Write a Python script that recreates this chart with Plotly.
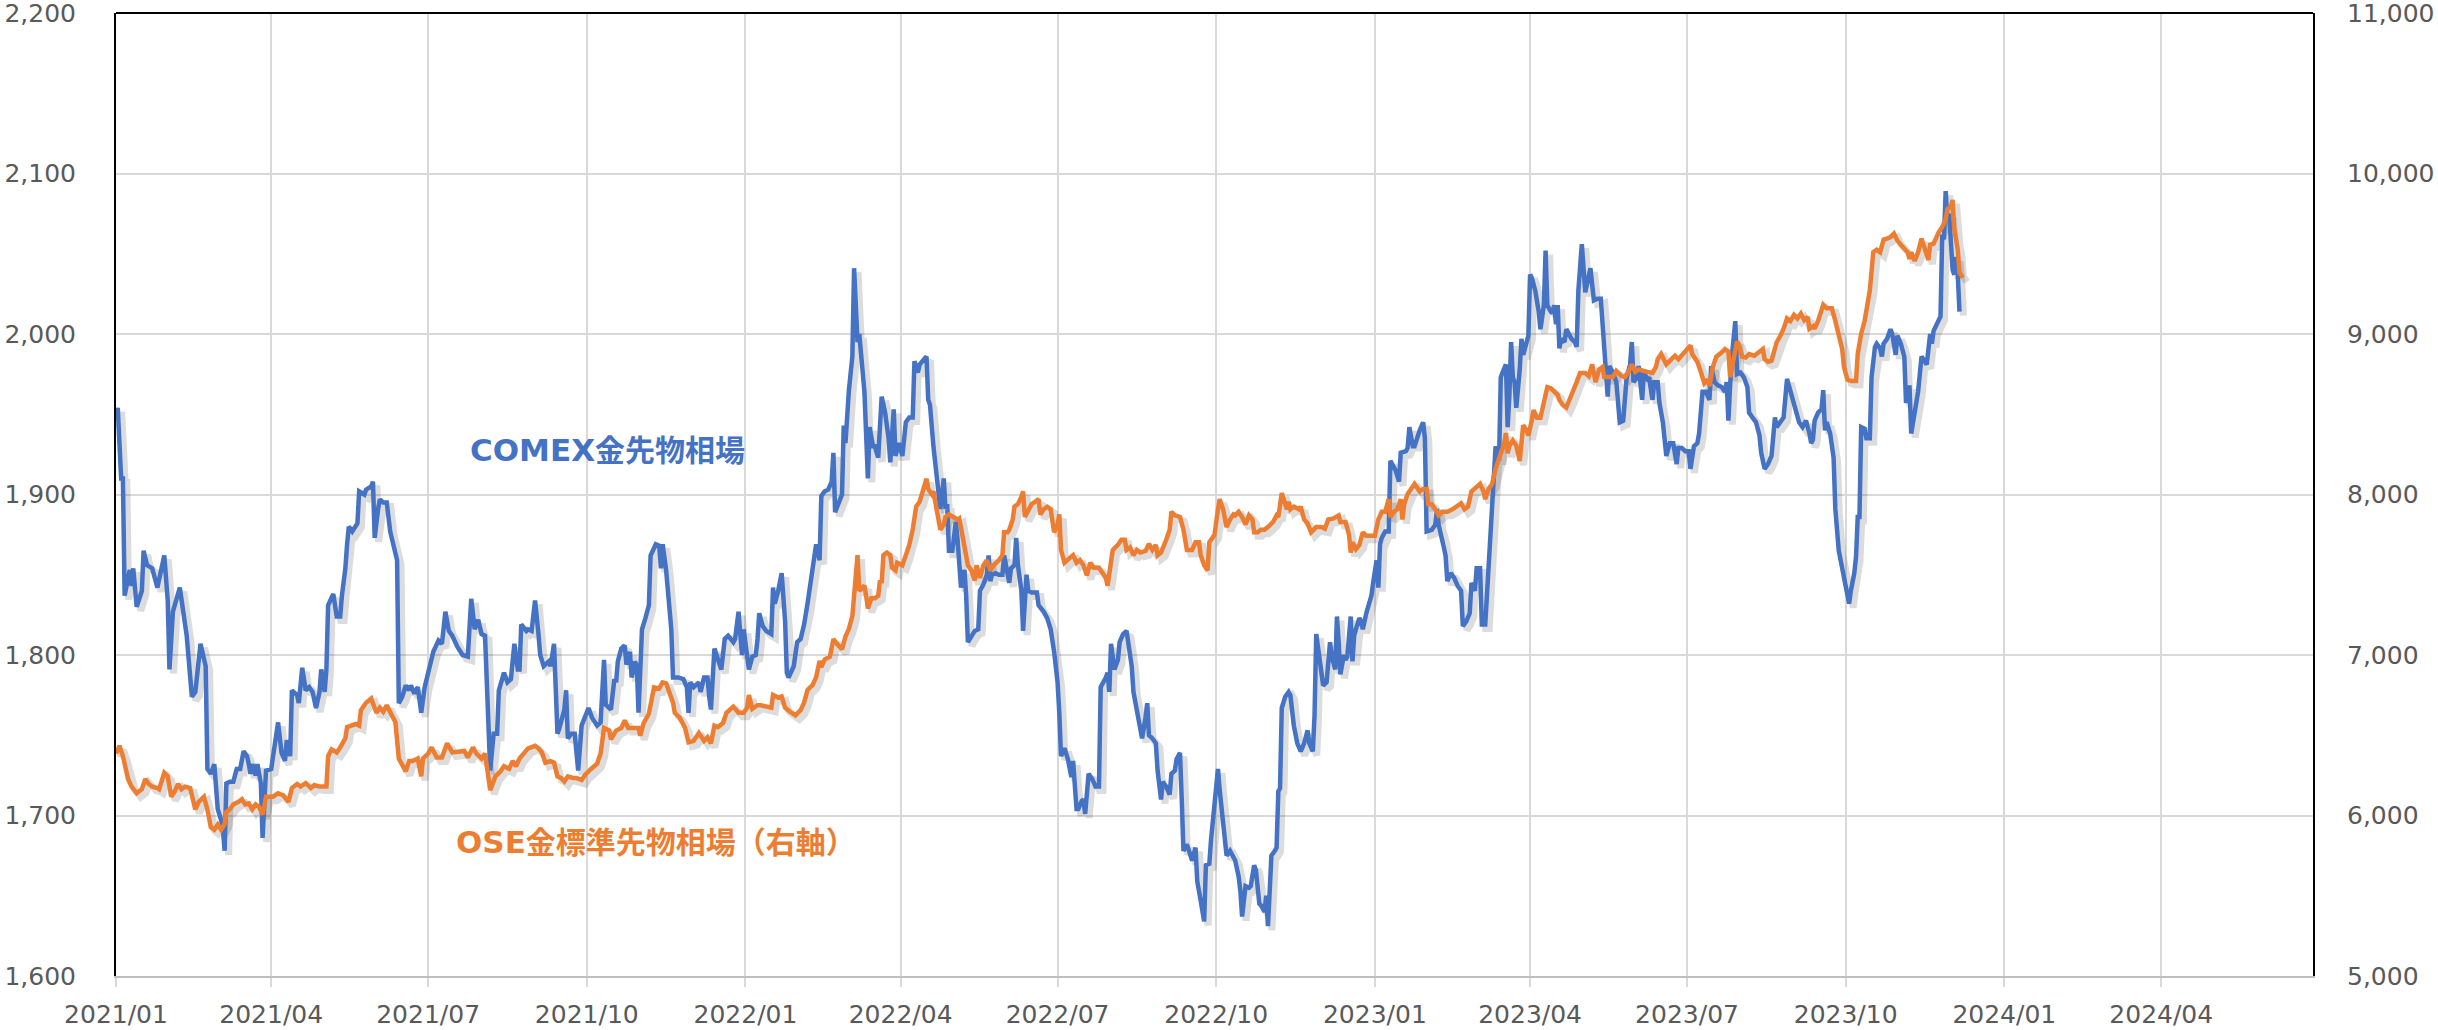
import pandas as pd
import plotly.graph_objects as go

# ---- data (day = days since 2021-01-01) ----
comex_day = [
    0, 1, 3, 4, 5, 6, 8, 9, 10, 12, 15, 16, 18, 21, 24, 28, 30, 31, 33, 37, 41, 44, 46, 49, 52, 53, 55, 57, 59, 61,
    62, 63, 64, 66, 68, 70, 72, 74, 76, 77, 78, 79, 81, 82, 84, 85, 87, 90, 92, 94, 96, 98, 99, 101, 102, 105, 106,
    108, 110, 112, 114, 116, 118, 119, 121, 122, 123, 126, 128, 130, 131, 133, 134, 135, 137, 140, 141, 144, 145,
    148, 149, 150, 152, 153, 155, 157, 159, 162, 163, 164, 166, 168, 170, 171, 173, 175, 177, 179, 181, 183, 184,
    187, 189, 191, 193, 195, 198, 201, 204, 206, 208, 210, 212,
    214, 216, 217, 219, 221, 222, 225, 227, 229, 231, 233, 234, 235, 238, 239, 241, 243, 245, 246, 248, 251, 252,
    254, 256, 257, 260, 261, 262, 264, 266, 268, 270, 272, 274, 276, 279, 281, 283, 284, 286, 287, 289, 290, 291,
    293, 295, 296, 298, 299, 301, 302, 303, 305, 307, 309, 310, 313, 315, 316, 317, 319, 322, 323, 326, 329, 331,
    332, 333, 335, 338, 339, 341, 343, 344, 345, 347, 349, 351, 353, 355, 358, 359, 361, 363, 364, 367, 369, 371,
    372, 373, 375, 377, 380, 381, 382, 384, 386, 388, 389, 390, 393, 395, 397, 399, 401, 402, 404, 406, 408, 409,
    411, 413, 415, 416, 417, 419, 421, 422, 423, 425, 427, 428, 430, 431,
    432, 434, 436, 437, 439, 440, 442, 444, 446, 448, 449, 451, 452, 454, 456, 458, 460, 462, 463, 465, 466, 468,
    470, 471, 472, 474, 476, 477, 478, 480, 481, 482, 483, 485, 486, 487, 488, 489, 490, 492, 493, 494, 496, 498,
    500, 501, 503, 505, 506, 507, 508, 510, 512, 514, 515, 517, 518, 519, 521, 522, 523, 525, 526, 528, 529, 531,
    534, 535, 538, 540, 542, 544, 546, 547, 548, 550, 552, 554, 555, 557, 558, 560, 561, 562, 564, 566, 568, 570,
    571, 574, 575, 576, 577, 579, 581, 582, 584, 586, 587, 589, 590, 592, 594, 595, 597, 598, 599, 601, 603, 604,
    606, 607, 609, 611, 612, 614, 615, 617, 618, 619, 621, 623, 624, 626, 627, 629, 631, 632, 634, 635, 637, 639,
    640, 642, 644, 646,
    649, 651, 652, 653, 655, 657, 658, 660, 661, 663, 664, 666, 667, 668, 670, 672, 673, 674, 675, 676, 678, 680,
    681, 683, 685, 687, 689, 691, 692, 694, 695, 696, 697, 699, 700, 702, 704, 705, 707, 708, 709, 710, 712, 713,
    714, 716, 717, 718, 719, 721, 722, 723, 725, 726, 728, 729, 731, 732, 733, 734, 736, 738, 739, 740, 742, 744,
    745, 748, 749, 750, 752, 753, 755, 756, 758, 759, 760, 763, 765, 766, 767, 769, 770, 771, 772, 774, 776, 778,
    780, 781, 783, 785, 786, 788, 789, 791, 792, 794, 796, 797, 798, 799, 800, 802, 803, 804, 806, 807, 808, 809,
    810, 811, 812, 814, 815, 816, 818, 819, 820, 821, 823, 825, 826, 828, 829, 830, 832, 833, 834, 835, 836, 837,
    838, 840, 841, 843, 844, 846, 847, 848, 850, 852, 853, 855, 857, 859, 861, 863, 864, 865, 866,
    868, 870, 872, 874, 876, 878, 879, 880, 882, 883, 885, 886, 888, 889, 891, 892, 894, 895, 897, 899, 901, 903,
    905, 906, 908, 910, 912, 913, 915, 917, 918, 920, 922, 924, 925, 927, 929, 931, 933, 934, 935, 936, 937, 939,
    940, 942, 944, 946, 947, 949, 951, 953, 954, 956, 958, 960, 962, 963, 965, 967, 969, 970, 972, 974, 976, 978,
    980, 982, 983, 984, 985, 987, 989, 990, 991, 992, 994, 996, 997, 999, 1001, 1003, 1005, 1006, 1008, 1009, 1010,
    1011, 1012, 1014, 1015, 1017, 1018, 1020, 1021, 1023, 1024, 1025, 1027, 1029, 1030, 1032, 1033, 1035, 1037,
    1038, 1040, 1041, 1042, 1044, 1045, 1047, 1048, 1050, 1052, 1053, 1054, 1056, 1058, 1059, 1060, 1061, 1062,
    1063, 1065, 1066, 1067, 1068, 1069,
]
comex_usd = [
    1948, 1954, 1910, 1910, 1837, 1843, 1853, 1843, 1854, 1830, 1840, 1865, 1856, 1854, 1842, 1862, 1834, 1791, 1827,
    1842, 1812, 1774, 1777, 1807, 1793, 1729, 1726, 1732, 1704, 1697, 1691, 1678, 1720, 1721, 1721, 1729, 1729, 1740,
    1737, 1732, 1726, 1732, 1725, 1732, 1720, 1686, 1728, 1729, 1742, 1758, 1739, 1734, 1747, 1737, 1778, 1775, 1770,
    1792, 1778, 1780, 1777, 1767, 1777, 1791, 1777, 1791, 1831, 1838, 1824, 1824, 1837, 1854, 1869, 1880, 1877, 1882,
    1902, 1900, 1903, 1905, 1908, 1873, 1891, 1897, 1895, 1895, 1877, 1861, 1859, 1770, 1774, 1781, 1778, 1781, 1776,
    1780, 1764, 1780, 1789, 1796, 1802, 1809, 1807, 1827, 1815, 1812, 1805, 1800, 1799, 1835, 1816, 1822, 1813,
    1812, 1745, 1728, 1751, 1751, 1778, 1789, 1783, 1785, 1807, 1791, 1791, 1819, 1815, 1816, 1815, 1834, 1813, 1800,
    1793, 1796, 1793, 1807, 1751, 1754, 1766, 1778, 1748, 1751, 1751, 1728, 1756, 1762, 1767, 1761, 1756, 1758, 1797,
    1769, 1767, 1766, 1785, 1783, 1796, 1804, 1806, 1794, 1802, 1786, 1796, 1793, 1764, 1816, 1823, 1831, 1862, 1869,
    1868, 1854, 1869, 1853, 1816, 1786, 1786, 1785, 1780, 1764, 1783, 1780, 1783, 1777, 1786, 1786, 1774, 1766, 1804,
    1797, 1791, 1810, 1812, 1808, 1810, 1827, 1800, 1816, 1791, 1799, 1800, 1810, 1826, 1818, 1815, 1813, 1842, 1832,
    1840, 1851, 1821, 1789, 1786, 1793, 1808, 1810, 1819, 1832, 1840, 1853, 1869, 1859, 1899, 1902, 1903, 1908, 1926,
    1889, 1894, 1900, 1943, 1932, 1965, 1986, 2041, 1995, 2000,
    1986, 1964, 1910, 1942, 1930, 1930, 1923, 1961, 1951, 1935, 1920, 1953, 1924, 1932, 1924, 1945, 1948, 1948, 1983,
    1976, 1981, 1984, 1986, 1959, 1956, 1930, 1910, 1902, 1891, 1910, 1891, 1894, 1865, 1865, 1877, 1883, 1872, 1859,
    1842, 1853, 1837, 1808, 1812, 1815, 1816, 1840, 1844, 1850, 1862, 1846, 1850, 1851, 1850, 1850, 1862, 1850, 1845,
    1854, 1856, 1873, 1856, 1840, 1815, 1850, 1840, 1839, 1839, 1831, 1827, 1823, 1816, 1802, 1783, 1764, 1737, 1742,
    1735, 1724, 1734, 1704, 1704, 1709, 1710, 1701, 1726, 1723, 1718, 1718, 1780, 1786, 1789, 1777, 1807, 1791, 1797,
    1808, 1813, 1815, 1808, 1793, 1777, 1766, 1755, 1748, 1761, 1770, 1750, 1748, 1745, 1728, 1710, 1721, 1718, 1713,
    1726, 1728, 1735, 1739, 1710, 1678, 1682, 1675, 1672, 1680, 1659, 1647, 1634, 1669, 1670, 1685, 1707, 1729, 1716,
    1697, 1675, 1678,
    1672, 1662, 1653, 1637, 1656, 1655, 1656, 1669, 1666, 1645, 1644, 1640, 1650, 1631, 1675, 1678, 1680, 1715, 1717,
    1767, 1774, 1777, 1775, 1756, 1745, 1740, 1745, 1753, 1745, 1740, 1762, 1813, 1803, 1789, 1781, 1783, 1808, 1799,
    1791, 1824, 1808, 1788, 1800, 1797, 1799, 1824, 1796, 1812, 1816, 1823, 1821, 1816, 1826, 1829, 1837, 1845, 1859,
    1842, 1869, 1873, 1877, 1877, 1921, 1919, 1915, 1908, 1926, 1927, 1929, 1942, 1930, 1930, 1937, 1940, 1945, 1935,
    1877, 1878, 1881, 1891, 1881, 1873, 1867, 1862, 1846, 1851, 1848, 1843, 1840, 1818, 1821, 1826, 1845, 1840, 1854,
    1854, 1819, 1819, 1853, 1872, 1894, 1911, 1930, 1921, 1973, 1976, 1981, 1942, 1962, 1995, 1973, 1970, 1954, 1978,
    1997, 1987, 1994, 1999, 2037, 2035, 2027, 2014, 2003, 2018, 2052, 2018, 2014, 2013, 2018, 2006, 2018, 1991, 1997,
    1995, 2003, 1999, 1997, 1995, 1992, 2027, 2056, 2026, 2032, 2041, 2021, 2022, 2022, 1994, 1980, 1961, 1980,
    1976, 1970, 1945, 1946, 1973, 1981, 1995, 1970, 1973, 1980, 1959, 1976, 1972, 1973, 1959, 1970, 1970, 1957, 1945,
    1924, 1932, 1932, 1919, 1929, 1929, 1927, 1927, 1916, 1930, 1932, 1938, 1964, 1964, 1959, 1980, 1970, 1968, 1967,
    1964, 1970, 1946, 1968, 1986, 2008, 1975, 1976, 1973, 1967, 1951, 1948, 1945, 1937, 1926, 1916, 1919, 1924, 1948,
    1942, 1945, 1948, 1972, 1968, 1962, 1954, 1945, 1942, 1946, 1938, 1932, 1934, 1946, 1951, 1953, 1965, 1940, 1945,
    1938, 1923, 1891, 1865, 1854, 1843, 1832, 1840, 1851, 1861, 1886, 1886, 1942, 1941, 1935, 1935, 1973, 1992, 1994,
    1991, 1986, 1994, 1997, 2003, 2000, 1987, 1999, 1994, 1986, 1957, 1968, 1938, 1945, 1961, 1964, 1986, 1984, 1981,
    2000, 1994, 2002, 2006, 2011, 2062, 2059, 2089, 2071, 2075, 2040, 2037, 2048, 2037, 2014,
]

ose_day = [
    0, 2, 4, 7, 9, 12, 15, 17, 19, 21, 24, 25, 28, 30, 32, 34, 36, 38, 40, 43, 46, 48, 51, 53, 55, 57, 59, 61, 63,
    64, 66, 68, 71, 73, 75, 77, 79, 81, 83, 85, 87, 91, 94, 97, 100, 102, 105, 107, 110, 113, 115, 118, 122, 123,
    125, 128, 130, 133, 134, 136, 139, 141, 142, 145, 148, 151, 153, 155, 157, 160, 162, 164, 166, 168, 170, 172,
    175, 177, 178, 181, 183, 186, 189, 192, 195, 199, 202, 204, 207, 209, 212,
    214, 216, 217, 220, 223, 225, 228, 230, 232, 234, 237, 239, 243, 245, 247, 249, 252, 254, 256, 258, 260, 262,
    265, 267, 270, 272, 275, 279, 281, 283, 286, 287, 290, 293, 295, 297, 300, 303, 304, 306, 309, 312, 315, 317,
    319, 321, 323, 324, 327, 330, 332, 335, 338, 341, 343, 345, 347, 349, 352, 354, 356, 358, 361, 364, 366, 367,
    369, 372, 374, 377, 380, 381, 384, 386, 388, 391, 394, 397, 399, 401, 404, 406, 408, 409, 411, 414, 416, 419,
    421, 423, 425, 427, 428, 430, 431,
    434, 435, 436, 438, 440, 442, 443, 444, 445, 447, 449, 450, 452, 453, 456, 458, 460, 462, 464, 466, 468, 470,
    471, 473, 474, 476, 478, 480, 481, 483, 485, 488, 489, 491, 493, 494, 496, 498, 499, 501, 503, 505, 507, 509,
    512, 514, 515, 517, 518, 520, 521, 523, 525, 526, 527, 529, 531, 533, 535, 536, 538, 540, 542, 544, 546, 547,
    548, 550, 553, 555, 557, 559, 561, 563, 565, 567, 570, 572, 574, 575, 577, 578, 581, 583, 585, 586, 588, 590,
    592, 594, 597, 599, 601, 603, 604, 606, 609, 611, 612, 614, 617, 619, 621, 624, 626, 628, 629, 631, 633, 634,
    636, 637, 639, 640, 642, 644, 646, 648,
    649, 651, 653, 655, 657, 659, 660, 662, 664, 666, 668, 671, 673, 674, 676, 678, 679, 680, 681, 683, 686, 687,
    689, 691, 693, 696, 699, 701, 703, 706, 709, 710, 713, 715, 716, 717, 719, 721, 723, 725, 728, 730, 732, 734,
    736, 738, 739, 741, 743, 745, 746, 747, 749, 751, 753, 755, 756, 758, 760, 761, 763, 765, 767, 769, 772, 775,
    778, 780, 782, 784, 786, 788, 791, 793, 794, 796, 798, 800, 801, 803, 805, 806, 807, 808, 810, 812, 814, 815,
    816, 818, 819, 821, 822, 824, 826, 828, 830, 832, 834, 836, 837, 839, 841, 843, 845, 847, 849, 852, 854, 856,
    858, 860, 862, 863, 865,
    868, 870, 873, 875, 877, 879, 881, 883, 885, 888, 891, 893, 894, 896, 899, 901, 904, 906, 909, 911, 913, 914,
    917, 919, 921, 923, 924, 926, 928, 931, 933, 935, 936, 938, 940, 941, 943, 945, 947, 950, 953, 955, 956, 958,
    960, 962, 963, 965, 967, 969, 971, 973, 975, 977, 979, 981, 982, 984, 985, 987, 989, 990, 992, 995, 997, 999,
    1001, 1002, 1004, 1006, 1009, 1010, 1012, 1014, 1016, 1017, 1019, 1021, 1023, 1025, 1027, 1029, 1031, 1033,
    1035, 1037, 1039, 1040, 1041, 1043, 1045, 1047, 1049, 1051, 1052, 1054, 1057, 1059, 1061, 1062, 1064, 1065,
    1066, 1067, 1068, 1069, 1071,
]
ose_jpy = [
    6386, 6434, 6370, 6228, 6180, 6139, 6164, 6228, 6196, 6180, 6171, 6164, 6266, 6244, 6117, 6149, 6196, 6164, 6180,
    6171, 6038, 6085, 6117, 6038, 5927, 5911, 5943, 5911, 5949, 6022, 6038, 6069, 6085, 6101, 6069, 6075, 6038, 6069,
    6053, 6006, 6117, 6117, 6139, 6126, 6085, 6171, 6196, 6180, 6202, 6171, 6190, 6180, 6180, 6370, 6412, 6393, 6424,
    6481, 6551, 6560, 6570, 6560, 6656, 6703, 6729, 6640, 6672, 6646, 6687, 6624, 6583, 6355, 6307, 6275, 6339, 6339,
    6355, 6244, 6355, 6386, 6424, 6361, 6361, 6450, 6393, 6402, 6402, 6361, 6424, 6386, 6355,
    6386, 6244, 6158, 6244, 6275, 6307, 6291, 6339, 6307, 6355, 6393, 6418, 6434, 6418, 6393, 6329, 6339, 6329, 6244,
    6234, 6212, 6244, 6234, 6234, 6221, 6253, 6285, 6323, 6386, 6545, 6529, 6475, 6529, 6545, 6592, 6545, 6545, 6545,
    6497, 6576, 6634, 6798, 6792, 6830, 6824, 6767, 6703, 6640, 6608, 6545, 6456, 6465, 6513, 6465, 6488, 6450, 6560,
    6551, 6576, 6640, 6656, 6678, 6640, 6640, 6672, 6751, 6665, 6687, 6687, 6678, 6672, 6751, 6735, 6741, 6672, 6646,
    6624, 6656, 6703, 6783, 6814, 6862, 6963, 6925, 6973, 6989, 7099, 7058, 7036, 7115, 7163, 7242, 7369, 7622, 7400,
    7432, 7369, 7290, 7353, 7353, 7369, 7464, 7448, 7622, 7638, 7622, 7543, 7527, 7575, 7559, 7622, 7686, 7781, 7924,
    7955, 8035, 8098, 8035, 8003, 8019, 7908, 7781, 7813, 7860, 7876, 7860, 7844, 7851, 7718, 7622, 7559, 7527, 7464,
    7559, 7480, 7559, 7591, 7527, 7559, 7591, 7622, 7765, 7765, 7781, 7844, 7924, 7940, 7987, 8019, 7860, 7908, 7940,
    7955, 7971, 7876, 7908, 7924, 7908, 7765, 7813, 7876, 7654, 7575, 7606, 7622, 7575, 7591, 7559, 7496, 7575, 7543,
    7543, 7512, 7480, 7432, 7559, 7654, 7686, 7718, 7718, 7654, 7670, 7622, 7654, 7638, 7648, 7692, 7654, 7686, 7622,
    7638, 7718, 7781, 7892, 7870, 7860, 7781, 7654, 7654, 7702, 7702, 7622, 7559, 7527, 7702, 7733, 7749, 7908, 7971,
    7908, 7797, 7844, 7876,
    7870, 7892, 7860, 7813, 7870, 7844, 7765, 7765, 7781, 7781, 7797, 7829, 7870, 7860, 8009, 7940, 7908, 7955, 7908,
    7924, 7908, 7924, 7844, 7819, 7765, 7797, 7797, 7787, 7844, 7851, 7870, 7829, 7829, 7749, 7638, 7702, 7660, 7686,
    7765, 7743, 7743, 7743, 7844, 7892, 7892, 7971, 7860, 7892, 7908, 7971, 7844, 7940, 8003, 8041, 8066, 8035, 8019,
    8035, 8035, 7940, 7940, 7908, 7870, 7892, 7892, 7908, 7933, 7946, 7908, 7924, 8019, 8041, 8066, 8019, 7971, 8035,
    8066, 8161, 8193, 8272, 8320, 8383, 8257, 8304, 8336, 8304, 8209, 8320, 8431, 8399, 8368, 8463, 8526, 8478, 8478,
    8574, 8669, 8662, 8637, 8621, 8589, 8558, 8542, 8589, 8637, 8700, 8757, 8757, 8738, 8811, 8700, 8779, 8795, 8732,
    8732,
    8732, 8770, 8738, 8732, 8764, 8811, 8764, 8779, 8770, 8764, 8757, 8795, 8843, 8875, 8811, 8834, 8865, 8843, 8884,
    8906, 8929, 8875, 8827, 8764, 8694, 8716, 8675, 8795, 8859, 8884, 8906, 8891, 8732, 8843, 8954, 8938, 8859, 8853,
    8875, 8865, 8891, 8906, 8843, 8827, 8834, 8906, 8948, 8986, 9033, 9097, 9081, 9119, 9097, 9128, 9087, 9106, 9033,
    9049, 9033, 9081, 9160, 9182, 9160, 9160, 9081, 8986, 8906, 8795, 8716, 8707, 8707, 8875, 9002, 9081, 9192, 9271,
    9509, 9525, 9509, 9588, 9594, 9604, 9626, 9582, 9556, 9531, 9509, 9467, 9509, 9455, 9509, 9594, 9525, 9461, 9556,
    9563, 9635, 9667, 9715, 9778, 9794, 9835, 9651, 9572, 9525, 9382, 9350,
]

comex_label_latin, comex_label_cjk = "COMEX", "金先物相場"
ose_label_latin, ose_label_cjk = "OSE", "金標準先物相場（右軸）"

base = pd.Timestamp("2021-01-01")
comex_x = base + pd.to_timedelta(comex_day, unit="D")
ose_x = base + pd.to_timedelta(ose_day, unit="D")

BLUE = "#4472C4"
ORANGE = "#ED7D31"
TICK_FONT = dict(family="DejaVu Sans", size=25, color="#595959")

x_start = pd.Timestamp("2021-01-01")
x_end = pd.Timestamp("2024-06-28")
shift = pd.Timedelta(hours=55)  # drop-shadow offset (~4 px)


def label(latin, cjk):
    return ("<b><span style=\"font-family:'DejaVu Sans';font-size:31px\">" + latin + "</span>"
            + cjk + "</b>")


fig = go.Figure()
# soft drop shadows (drawn on hidden, slightly offset axes)
fig.add_trace(go.Scatter(x=comex_x, y=comex_usd, mode="lines", xaxis="x", yaxis="y",
                         line=dict(color="rgba(40,40,40,0.16)", width=7), hoverinfo="skip", showlegend=False))
fig.add_trace(go.Scatter(x=ose_x, y=ose_jpy, mode="lines", xaxis="x", yaxis="y3",
                         line=dict(color="rgba(40,40,40,0.16)", width=7), hoverinfo="skip", showlegend=False))
# the visible series
fig.add_trace(go.Scatter(x=comex_x, y=comex_usd, mode="lines", name=comex_label_latin + comex_label_cjk,
                         xaxis="x2", yaxis="y2", line=dict(color=BLUE, width=4.5), showlegend=False))
fig.add_trace(go.Scatter(x=ose_x, y=ose_jpy, mode="lines", name=ose_label_latin + ose_label_cjk,
                         xaxis="x2", yaxis="y4", line=dict(color=ORANGE, width=4.5), showlegend=False))

fig.update_layout(
    width=2438, height=1030,
    margin=dict(l=116, r=125, t=13, b=54, autoexpand=False),
    paper_bgcolor="white", plot_bgcolor="white",
    showlegend=False,
    xaxis=dict(visible=False, range=[x_start - shift, x_end - shift], domain=[0, 1], automargin=False),
    yaxis=dict(visible=False, range=[1602.5, 2202.5], automargin=False),
    yaxis3=dict(visible=False, range=[5025, 11025], overlaying="y", automargin=False),
    xaxis2=dict(
        overlaying="x", anchor="y2", side="bottom",
        range=[x_start, x_end], type="date",
        tick0="2021-01-01", dtick="M3", tickformat="%Y/%m",
        showgrid=True, gridcolor="#d9d9d9", gridwidth=2,
        showline=True, linecolor="#bfbfbf", linewidth=2,
        ticks="outside", ticklen=9, tickwidth=2, tickcolor="#d9d9d9",
        ticklabelstandoff=6,
        tickfont=TICK_FONT, zeroline=False, automargin=False,
        ticklabeloverflow="allow",
    ),
    yaxis2=dict(
        overlaying="y", anchor="x2", side="left",
        range=[1600, 2200], dtick=100, tickformat=",",
        showgrid=True, gridcolor="#d9d9d9", gridwidth=2,
        showline=True, linecolor="black", linewidth=2,
        ticks="outside", ticklen=33, tickcolor="rgba(0,0,0,0)",
        tickfont=TICK_FONT, zeroline=False, automargin=False,
        ticklabeloverflow="allow",
    ),
    yaxis4=dict(
        overlaying="y", anchor="x2", side="right",
        range=[5000, 11000], dtick=1000, tickformat=",",
        showgrid=False,
        showline=True, linecolor="black", linewidth=2,
        ticks="outside", ticklen=27, tickcolor="rgba(0,0,0,0)",
        tickfont=TICK_FONT, zeroline=False, automargin=False,
        ticklabeloverflow="allow",
    ),
    shapes=[dict(type="line", xref="paper", yref="paper", x0=0, x1=1, y0=1, y1=1,
                 line=dict(color="black", width=2), layer="above")],
    annotations=[
        dict(text=label(comex_label_latin, comex_label_cjk), xref="paper", yref="paper", x=0.2239, y=0.5487,
             xanchor="center", yanchor="middle", showarrow=False,
             font=dict(family="Noto Sans CJK JP", size=30, color=BLUE)),
        dict(text=label(ose_label_latin, ose_label_cjk), xref="paper", yref="paper", x=0.2458, y=0.1408,
             xanchor="center", yanchor="middle", showarrow=False,
             font=dict(family="Noto Sans CJK JP", size=30, color=ORANGE)),
    ],
)

# remove the browser's default 8px page margin so the figure fills the window exactly
fig.write_html(
    "out.html",
    config={"displayModeBar": False},
    post_script="document.body.style.margin='0px';document.body.style.overflow='hidden';",
)
